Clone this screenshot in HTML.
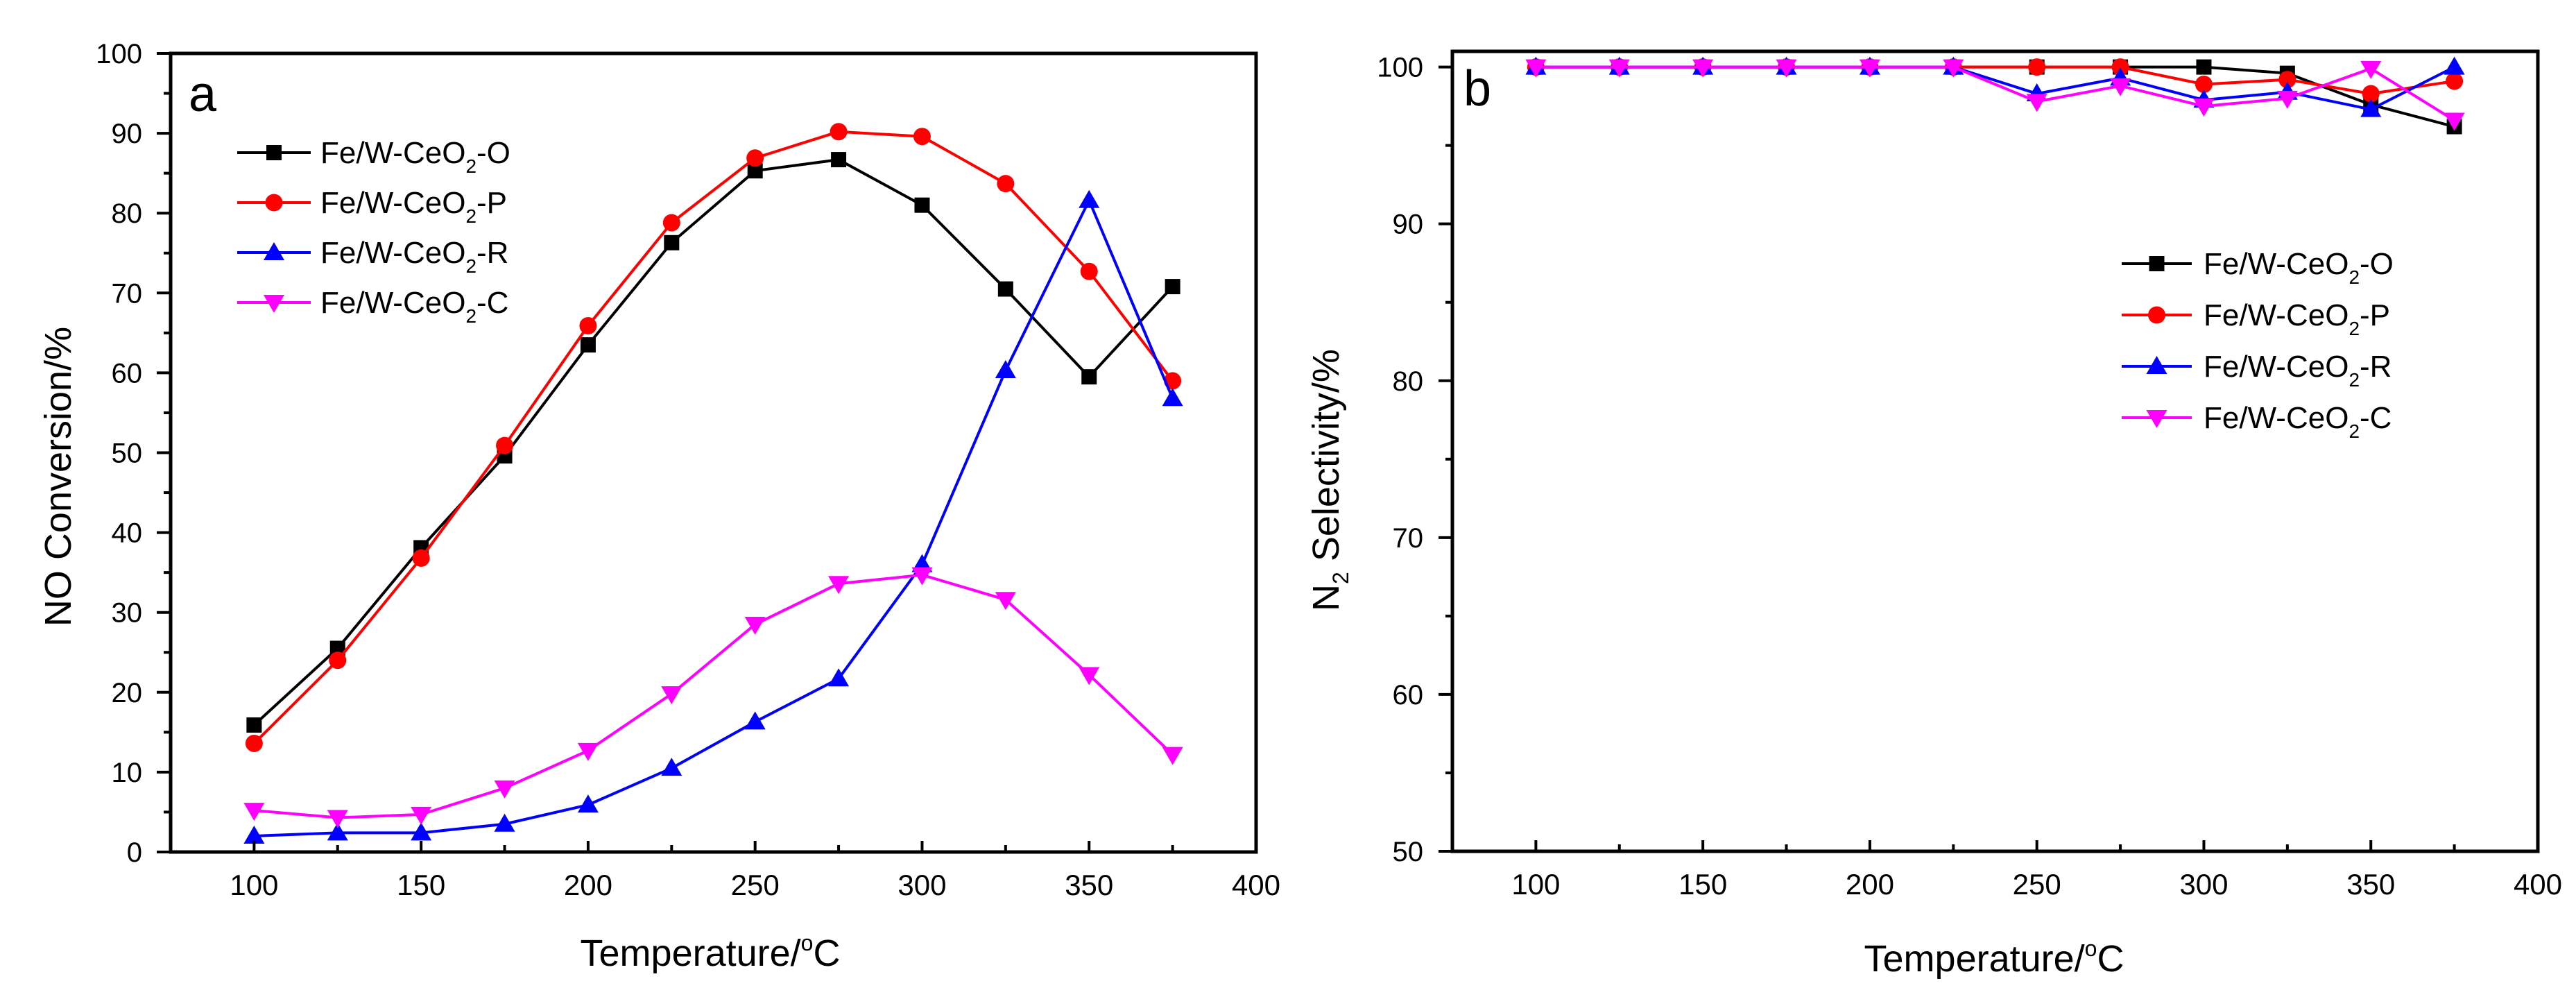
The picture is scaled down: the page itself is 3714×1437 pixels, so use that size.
<!DOCTYPE html>
<html><head><meta charset="utf-8">
<style>
html,body{margin:0;padding:0;background:#fff;}
svg{display:block;font-family:"Liberation Sans",Arial,sans-serif;}
</style></head>
<body>
<svg id="fig" width="3714" height="1437" viewBox="0 0 3714 1437" xmlns="http://www.w3.org/2000/svg">
<rect x="0" y="0" width="3714" height="1437" fill="#fff"/>
</svg>
<script>
const temps = [100,125,150,175,200,225,250,275,300,325,350,375];
const seriesNames = ["Fe/W-CeO2-O","Fe/W-CeO2-P","Fe/W-CeO2-R","Fe/W-CeO2-C"];
const convO = [15.9,25.5,38.1,49.6,63.5,76.3,85.3,86.7,81.0,70.5,59.5,70.8];
const convP = [13.6,24.0,36.8,50.9,65.9,78.8,86.9,90.2,89.6,83.7,72.7,59.0];
const convR = [2.0,2.4,2.4,3.5,5.9,10.5,16.3,21.7,36.0,60.3,81.6,56.8];
const convC = [5.2,4.3,4.7,8.0,12.7,19.8,28.5,33.6,34.7,31.6,22.2,12.2];
const selO = [100,100,100,100,100,100,100,100,100,99.6,97.6,96.2];
const selP = [100,100,100,100,100,100,100,100,98.9,99.2,98.3,99.1];
const selR = [100,100,100,100,100,100,98.3,99.3,97.9,98.4,97.3,100];
const selC = [100,100,100,100,100,100,97.8,98.8,97.5,98.0,99.9,96.6];
const xTicks = [100,150,200,250,300,350,400];
const yTicksA = [0,10,20,30,40,50,60,70,80,90,100];
const yTicksB = [50,60,70,80,90,100];

const NS="http://www.w3.org/2000/svg";
const svg=document.getElementById('fig');
function el(tag,attrs,parent){const e=document.createElementNS(NS,tag);for(const k in attrs)e.setAttribute(k,attrs[k]);(parent||svg).appendChild(e);return e;}
const colors=["#000000","#ff0000","#0000ff","#ff00ff"];
const shapes=["square","circle","up","down"];

function marker(g,shape,x,y,color){
  let m;
  if(shape==="square") m=el('rect',{x:x-11,y:y-11,width:22,height:22,fill:color},g);
  else if(shape==="circle") m=el('circle',{cx:x,cy:y,r:12.5,fill:color},g);
  else if(shape==="up") m=el('polygon',{points:`${x},${y-15} ${x+15},${y+11} ${x-15},${y+11}`,fill:color},g);
  else m=el('polygon',{points:`${x},${y+15} ${x+15},${y-11} ${x-15},${y-11}`,fill:color},g);
  return m;
}

function panel(cfg){
  const {L,R,T,B,xmin,xmax,ymin,ymax,yTicks,yMinorStep,data,id,letter,lx,ly,leg,yTitle,ytx,yty,xtx,xty,yLabRight}=cfg;
  const xs=v=>L+(v-xmin)/(xmax-xmin)*(R-L);
  const ys=v=>B-(v-ymin)/(ymax-ymin)*(B-T);
  const g=el('g',{});
  
  
  // series
  data.forEach((arr,si)=>{
    const sg=el('g',{},g);
    
    
    const pts=temps.map((t,i)=>xs(t)+','+ys(arr[i])).join(' ');
    el('polyline',{points:pts,fill:'none',stroke:colors[si],'stroke-width':4},sg);
    temps.forEach((t,i)=>{
      const m=marker(sg,shapes[si],xs(t),ys(arr[i]),colors[si]);
      
      
    });
  });
  // frame
  const fr=el('rect',{x:L,y:T,width:R-L,height:B-T,fill:'none',stroke:'#000','stroke-width':5},g);
  
  
  // y ticks
  for(let v=ymin;v<=ymax+0.001;v+=yMinorStep){
    const major=yTicks.includes(Math.round(v));
    el('line',{x1:L,x2:L-(major?20:10),y1:ys(v),y2:ys(v),stroke:'#000','stroke-width':4},g);
  }
  yTicks.forEach(v=>{
    const t=el('text',{x:yLabRight,y:ys(v)+14,'font-size':40,'text-anchor':'end',fill:'#000'},g);
    t.textContent=v;
    
    
  });
  // x ticks
  for(let v=xmin;v<=xmax;v+=25){
    const major=v%50===0;
    el('line',{x1:xs(v),x2:xs(v),y1:B,y2:B-(major?16:10),stroke:'#000','stroke-width':4},g);
  }
  xTicks.forEach(v=>{
    const t=el('text',{x:xs(v),y:B+62,'font-size':42,'text-anchor':'middle',fill:'#000'},g);
    t.textContent=v;
    
    
  });
  // panel letter
  const lt=el('text',{x:lx,y:ly,'font-size':72,fill:'#000'},g);
  lt.textContent=letter;
  
  
  // axis titles
  const xt=el('text',{x:xtx,y:xty,'font-size':54,'text-anchor':'middle',fill:'#000'},g);
  xt.innerHTML='Temperature/<tspan dy="-22" font-size="32">o</tspan><tspan dy="22">C</tspan>';
  
  
  const yt=el('text',{x:0,y:0,'font-size':54,'text-anchor':'middle',fill:'#000',transform:`translate(${ytx},${yty}) rotate(-90)`},g);
  yt.innerHTML=yTitle;
  
  
  // legend
  seriesNames.forEach((n,i)=>{
    const lg=el('g',{},g);
    
    
    const y=leg.y0+i*leg.dy;
    el('line',{x1:leg.x1,x2:leg.x2,y1:y,y2:y,stroke:colors[i],'stroke-width':4},lg);
    marker(lg,shapes[i],(leg.x1+leg.x2)/2,y,colors[i]);
    const t=el('text',{x:leg.tx,y:y+15,'font-size':44,fill:'#000'},lg);
    const base=n.replace('CeO2','');
    t.innerHTML='Fe/W-CeO<tspan dy="14" font-size="28">2</tspan><tspan dy="-14">'+n.split('CeO2')[1]+'</tspan>';
  });
}

panel({id:'a',L:246,R:1811,T:77,B:1228,xmin:75,xmax:400,ymin:0,ymax:100,yTicks:yTicksA,yMinorStep:5,
  data:[convO,convP,convR,convC],letter:'a',lx:272,ly:160,
  leg:{x1:342,x2:448,y0:220,dy:72,tx:462},
  yTitle:'NO Conversion/%',ytx:102,yty:687,xtx:1024,xty:1392,yLabRight:205});
panel({id:'b',L:2094,R:3659,T:74,B:1227,xmin:75,xmax:400,ymin:50,ymax:101,yTicks:yTicksB,yMinorStep:5,
  data:[selO,selP,selR,selC],letter:'b',lx:2110,ly:152,
  leg:{x1:3059,x2:3160,y0:380,dy:74,tx:3177},
  yTitle:'N<tspan dy="14" font-size="32">2</tspan><tspan dy="-14"> Selectivity/%</tspan>',ytx:1930,yty:692,xtx:2875,xty:1400,yLabRight:2052});
</script>
</body></html>
